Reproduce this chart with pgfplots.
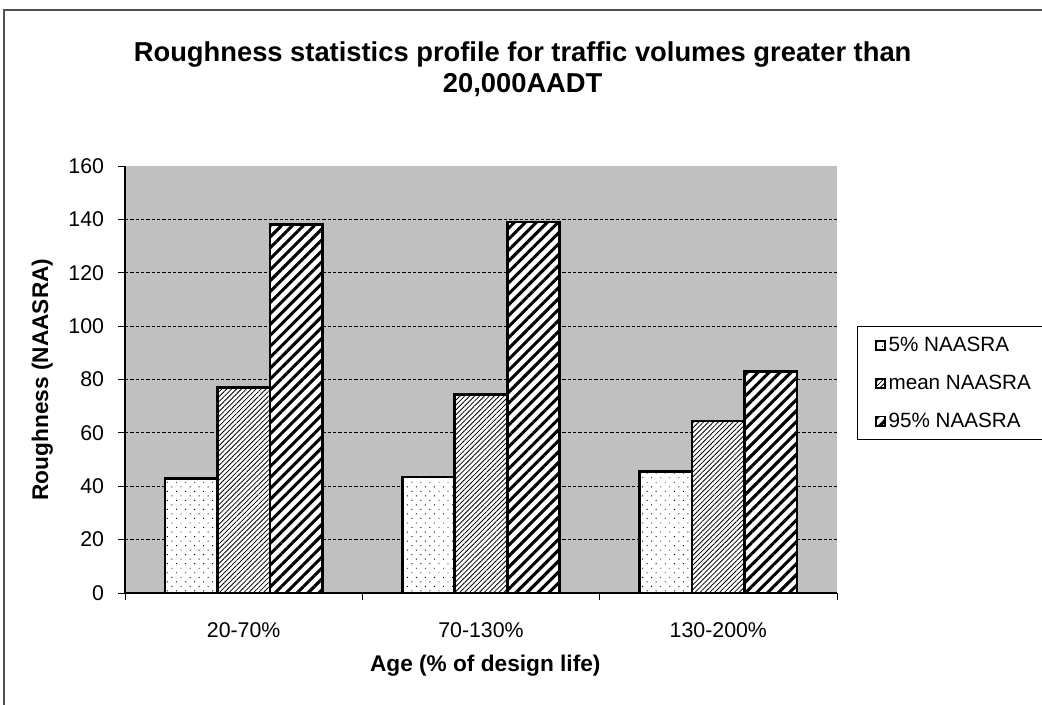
\documentclass[border=0pt]{standalone}
\usepackage{pgfplots}
\pgfplotsset{compat=1.18}
\usepackage{fontspec}
\setmainfont{Liberation Sans}
\usetikzlibrary{patterns.meta}
\definecolor{plotgray}{RGB}{192,192,192}
\definecolor{framegray}{RGB}{80,80,80}

\pgfplotstableread{
x  p5    mean  p95
0  43    77    138
1  43.5  74.5  139
2  45.5  64.5  83
}\datatable

\begin{document}
\begin{tikzpicture}
\useasboundingbox (0pt,0pt) rectangle (781.5pt,528pt);
% chart frame
\draw[line width=1.5pt, framegray] (3pt,-2pt) -- (3pt,520.5pt) -- (784pt,520.5pt);
% title
\node[anchor=base, font=\fontsize{20.5}{24}\selectfont\bfseries] at (392pt,481.5pt) {Roughness statistics profile for traffic volumes greater than};
\node[anchor=base, font=\fontsize{20.5}{24}\selectfont\bfseries] at (392pt,458.25pt) {20,000AADT};

\begin{axis}[
  at={(93.75pt,83.25pt)}, anchor=south west,
  scale only axis, width=534pt, height=320.25pt,
  xmin=-0.5, xmax=2.5, ymin=0, ymax=160,
  axis x line*=bottom, axis y line*=left,
  axis line style={-, black, line width=0.8pt},
  axis background/.style={fill=plotgray},
  ybar, bar width=0.2212,
  xtick={-0.5,0.5,1.5,2.5}, xticklabels={},
  extra x ticks={0,1,2},
  extra x tick labels={20-70\%,70-130\%,130-200\%},
  extra x tick style={major tick length=0pt, grid=none},
  ytick={0,20,...,140},
  extra y ticks={160},
  extra y tick style={grid=none},
  tick align=outside, major tick length=5pt,
  tick style={black, line width=0.7pt},
  ymajorgrids,
  major grid style={black, line width=0.6pt, dash pattern=on 2.5pt off 1.5pt},
  /pgf/number format/assume math mode=true,
  ticklabel style={font=\fontsize{16}{18}\selectfont},
  x tick label style={anchor=base, yshift=-33pt},
  y tick label style={anchor=east, inner sep=0pt, xshift=-10.5pt},
  xlabel={Age (\% of design life)},
  ylabel={Roughness (NAASRA)},
  label style={font=\fontsize{17}{20}\selectfont\bfseries},
  xlabel style={at={(axis description cs:0.506,-0.185)}, anchor=base},
  ylabel style={at={(axis description cs:-0.1081,0.5)}, anchor=base},
  legend style={at={(axis description cs:1.028,0.625)}, anchor=north west,
    draw=black, line width=0.8pt, font=\fontsize{15.5}{17}\selectfont,
    inner xsep=13pt, inner ysep=6pt, row sep=12pt},
  legend cell align=left,
  legend image code/.code={\draw[#1, line width=1.3pt] (0pt,-3.5pt) rectangle (7pt,3.5pt);},
]
\addplot[bar shift=-0.2212, draw=black, line width=2pt, fill=white,
  postaction={pattern={Dots[radius=0.5pt, distance=4.8pt, angle=45]}, pattern color=black}]
  table[x=x, y=p5] {\datatable};
\addplot[bar shift=0, draw=black, line width=2pt, fill=white,
  postaction={pattern={Lines[angle=45, distance=2.6pt, line width=0.6pt]}, pattern color=black}]
  table[x=x, y=mean] {\datatable};
\addplot[bar shift=0.2212, draw=black, line width=2pt, fill=white,
  postaction={pattern={Lines[angle=45, distance=5.8pt, line width=2.3pt]}, pattern color=black}]
  table[x=x, y=p95] {\datatable};
\legend{5\% NAASRA, mean NAASRA, 95\% NAASRA}
\end{axis}
\end{tikzpicture}
\end{document}
